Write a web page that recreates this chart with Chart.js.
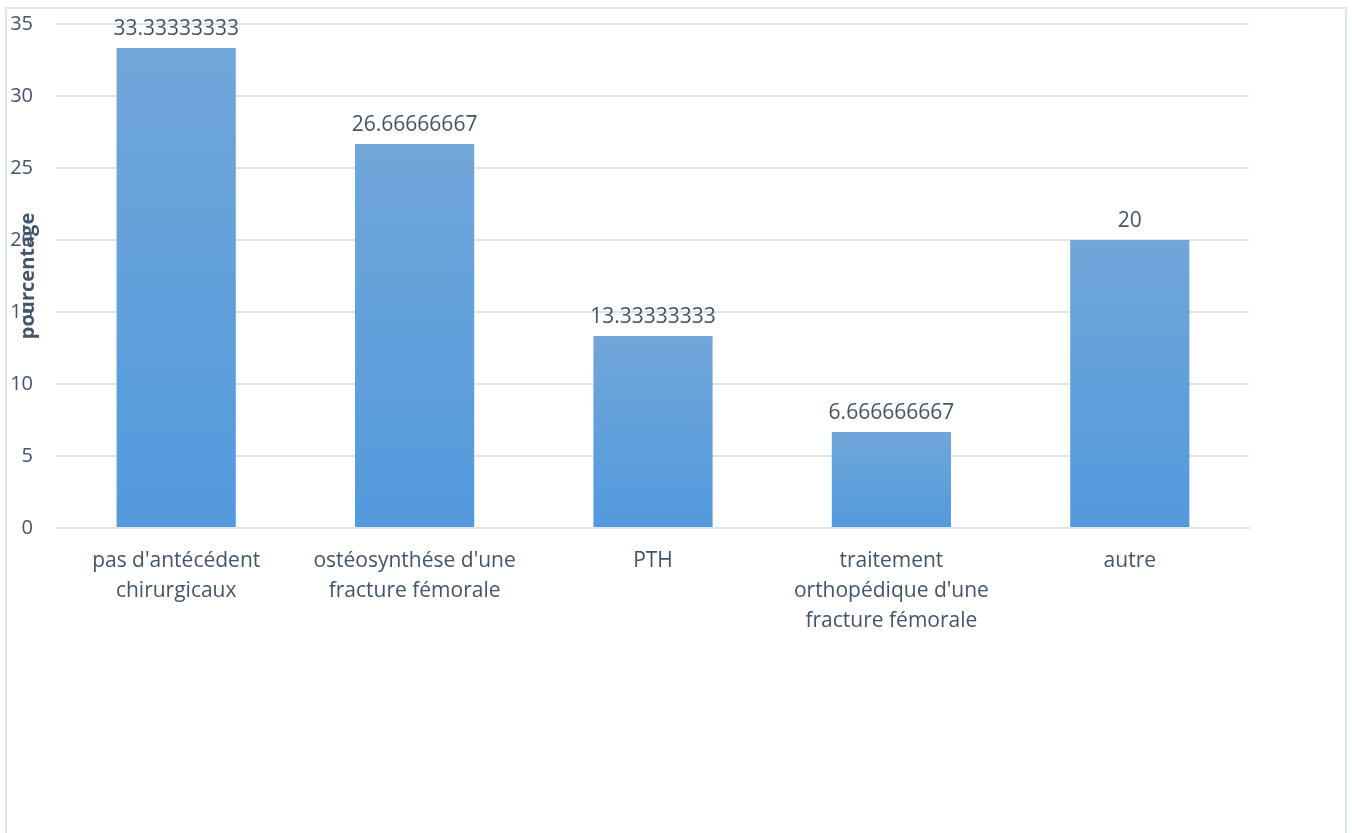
<!DOCTYPE html>
<html>
<head>
<meta charset="utf-8">
<script src="https://cdn.jsdelivr.net/npm/chart.js@4"></script>
<style>
  html, body { margin: 0; padding: 0; background: #fff; overflow: hidden; }
  #frame {
    position: absolute; left: 5px; top: 7px;
    width: 1338px; height: 900px;
    border: 2px solid #dfe3ea;
  }
  #wrap { position: absolute; left: 0; top: 0; width: 1352px; height: 833px; }
</style>
</head>
<body>
<div id="frame"></div>
<div id="wrap"><canvas id="chart" width="1352" height="833"></canvas></div>
<script>
// Antécédents chirurgicaux (%)
const categories = [
  ["pas d'antécédent", "chirurgicaux"],
  ["ostéosynthése d'une", "fracture fémorale"],
  "PTH",
  ["traitement", "orthopédique d'une", "fracture fémorale"],
  "autre"
];
const valueLabels = ['33.33333333', '26.66666667', '13.33333333', '6.666666667', '20'];
const values = valueLabels.map(Number);
const yTicks = { min: 0, max: 35, step: 5 };
const yTitle = 'pourcentage';

const textColor = '#44546a';
const fontFamily = "'Open Sans', sans-serif";

// vertical gradient per bar: lighter at the top, deeper at the base
function barFill(ctx) {
  const chart = ctx.chart;
  const y = chart.scales.y;
  if (!chart.chartArea || !y) return '#5b9bd5';
  const top = y.getPixelForValue(ctx.raw);
  const base = y.getPixelForValue(0);
  const g = chart.ctx.createLinearGradient(0, top, 0, base);
  g.addColorStop(0, '#71a6d9');
  g.addColorStop(1, '#529add');
  return g;
}

// value labels above the bars and the y title laid over the tick column
const overlay = {
  id: 'overlay',
  afterDatasetsDraw(chart) {
    const ctx = chart.ctx;
    const meta = chart.getDatasetMeta(0);
    ctx.save();
    ctx.fillStyle = textColor;
    ctx.font = '21px ' + fontFamily;
    ctx.textAlign = 'center';
    ctx.textBaseline = 'alphabetic';
    meta.data.forEach((bar, i) => {
      ctx.fillText(valueLabels[i], bar.x, bar.y - 13);
    });
    const area = chart.chartArea;
    ctx.translate(28, (area.top + area.bottom) / 2);
    ctx.rotate(-Math.PI / 2);
    ctx.font = 'bold 20px ' + fontFamily;
    ctx.textBaseline = 'middle';
    ctx.fillText(yTitle, 0, 0);
    ctx.restore();
  }
};

new Chart(document.getElementById('chart'), {
  type: 'bar',
  data: {
    labels: categories,
    datasets: [{
      data: values,
      backgroundColor: barFill,
      borderWidth: 0,
      barPercentage: 0.5,
      categoryPercentage: 1.0
    }]
  },
  options: {
    responsive: false,
    animation: false,
    events: [],
    layout: { padding: { left: 10, top: 24, right: 103, bottom: 185 } },
    plugins: {
      legend: { display: false },
      tooltip: { enabled: false }
    },
    scales: {
      x: {
        grid: { display: false, drawTicks: false },
        border: { color: '#dfe3ea', width: 2 },
        ticks: {
          color: textColor,
          font: { family: fontFamily, size: 21, lineHeight: 1.43 },
          padding: 18,
          maxRotation: 0,
          autoSkip: false
        },
        afterFit(scale) { scale.height = 120; }
      },
      y: {
        min: yTicks.min,
        max: yTicks.max,
        grid: { color: '#dfe3ea', lineWidth: 2, drawTicks: false },
        border: { display: false },
        ticks: {
          stepSize: yTicks.step,
          color: textColor,
          font: { family: fontFamily, size: 20 },
          padding: 24
        },
        afterFit(scale) {
          scale.width = 47;
          // tick padding would otherwise push the plot top down
          scale.paddingTop = 0;
          scale.paddingBottom = 0;
        }
      }
    }
  },
  plugins: [overlay]
});
</script>
</body>
</html>
